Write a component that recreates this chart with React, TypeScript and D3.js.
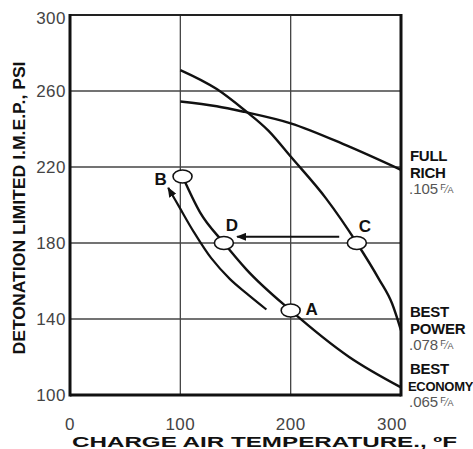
import React from 'react';
import * as d3 from 'd3';

const xTicks = [0, 100, 200, 300];
const yTicks = [100, 140, 180, 220, 260, 300];

// readings, [charge air temp °F, imep psi]
const fullRich: [number, number][] = [[100, 254.5], [133, 252], [158, 249], [200, 243], [250, 231.5], [300, 218.5]];
const bestPower: [number, number][] = [[100, 271], [133, 261], [158, 250], [180, 239], [200, 225.5], [232, 203.5], [260, 180], [280, 161], [292, 148], [300, 134]];
const bestEconomy: [number, number][] = [[102, 215], [118, 196], [139.5, 180], [160, 166], [200, 144.5], [253, 120], [300, 104]];
const returnArrow: [number, number][] = [[178, 145], [160, 153.5], [145, 161], [128, 172], [112, 186], [99, 199], [89, 209]];
const shiftArrow: [number, number][] = [[244, 183.3], [151.5, 183.3]];

const points = [
  { id: 'A', t: 200, p: 144.5 },
  { id: 'B', t: 102, p: 215 },
  { id: 'C', t: 260, p: 180 },
  { id: 'D', t: 139.5, p: 180 },
];

const endLabels = [
  { lines: ['FULL', 'RICH'], ratio: '.105', series: fullRich },
  { lines: ['BEST', 'POWER'], ratio: '.078', series: bestPower },
  { lines: ['BEST', 'ECONOMY'], ratio: '.065', series: bestEconomy },
];

const W = 473;
const H = 449;
const font = '"Liberation Sans", Arial, Helvetica, sans-serif';

export default function App() {
  const x = d3.scaleLinear().domain([0, 300]).range([70, 401]);
  const y = d3.scaleLinear().domain([100, 300]).range([395, 15]);

  const curve = d3.line<[number, number]>().x(d => x(d[0])).y(d => y(d[1])).curve(d3.curveMonotoneX);
  const free = d3.line<[number, number]>().x(d => x(d[0])).y(d => y(d[1])).curve(d3.curveCatmullRom.alpha(0.5));

  // label placement around the circles
  const lblOff: Record<string, [number, number]> = { A: [21, 0], B: [-22, 4], C: [8, -15], D: [8, -16] };

  return (
    <svg width={W} height={H} style={{ position: 'absolute', left: 0, top: 0, background: '#fff' }} fontFamily={font}>
      <defs>
        <marker id="ah" viewBox="0 0 10 8" refX="9" refY="4" markerWidth="10" markerHeight="8" markerUnits="userSpaceOnUse" orient="auto">
          <path d="M0,0 L10,4 L0,8 z" fill="#111" />
        </marker>
      </defs>

      {/* grid */}
      {xTicks.slice(1, -1).map(t => (
        <line key={'gx' + t} x1={x(t)} x2={x(t)} y1={y(300)} y2={y(100)} stroke="#444" strokeWidth={1.3} />
      ))}
      {yTicks.slice(1, -1).map(t => (
        <line key={'gy' + t} x1={x(0)} x2={x(300)} y1={y(t)} y2={y(t)} stroke="#444" strokeWidth={1.3} />
      ))}
      {/* frame */}
      <line x1={x(0)} x2={x(300)} y1={y(300)} y2={y(300)} stroke="#222" strokeWidth={2} />
      <line x1={x(0)} x2={x(0)} y1={y(300) - 1} y2={y(100) + 1.5} stroke="#111" strokeWidth={3} />
      <line x1={x(300)} x2={x(300)} y1={y(300) - 1} y2={y(100) + 1.5} stroke="#111" strokeWidth={3} />
      <line x1={x(0)} x2={x(300)} y1={y(100)} y2={y(100)} stroke="#111" strokeWidth={3} />

      {/* tick labels */}
      {yTicks.map(t => (
        <text key={'ly' + t} x={66} y={y(t) + (t === 300 ? 5 : 2)} textAnchor="end" dominantBaseline="middle"
          fontSize={17} fill="#444" letterSpacing={0.5}>{t}</text>
      ))}
      {xTicks.map(t => (
        <text key={'lx' + t} x={x(t) - (t === 300 ? 9 : 0)} y={430} textAnchor="middle" fontSize={17} fill="#444" letterSpacing={0.5}>{t}</text>
      ))}

      {/* axis titles */}
      <text x={72} y={447} fontSize={14} fontWeight="bold" fill="#111" textLength={385} lengthAdjust="spacingAndGlyphs">
        CHARGE AIR TEMPERATURE.,  ºF
      </text>
      <text transform="translate(25,208) rotate(-90)" textAnchor="middle" fontSize={16} fontWeight="bold" fill="#111"
        textLength={293} lengthAdjust="spacingAndGlyphs">DETONATION LIMITED I.M.E.P., PSI</text>

      {/* curves */}
      {[fullRich, bestPower, bestEconomy].map((s, i) => (
        <path key={'c' + i} d={curve(s) || ''} fill="none" stroke="#111" strokeWidth={2.4} />
      ))}
      <path d={free(returnArrow) || ''} fill="none" stroke="#111" strokeWidth={2.2} markerEnd="url(#ah)" />
      <path d={d3.line<[number, number]>().x(d => x(d[0])).y(d => y(d[1]))(shiftArrow) || ''} fill="none" stroke="#111" strokeWidth={2} markerEnd="url(#ah)" />

      {/* state points */}
      {points.map(pt => (
        <g key={pt.id}>
          <ellipse cx={x(pt.t)} cy={y(pt.p)} rx={9.5} ry={6.5} fill="#fff" stroke="#111" strokeWidth={1.6} />
          <text x={x(pt.t) + lblOff[pt.id][0]} y={y(pt.p) + lblOff[pt.id][1]} textAnchor="middle" dominantBaseline="middle"
            fontSize={17} fontWeight="bold" fill="#111">{pt.id}</text>
        </g>
      ))}

      {/* mixture labels at the right */}
      {endLabels.map((l, i) => {
        const y0 = y(l.series[l.series.length - 1][1]) - (i === 0 ? 13 : 17);
        return (
          <g key={'e' + i}>
            {l.lines.map((ln, j) => (
              <text key={j} x={ln.length > 5 ? 408 : 410} y={y0 + j * 17} dominantBaseline="middle"
                fontSize={ln.length > 5 ? 13 : 15} fontWeight="bold" fill="#111"
                letterSpacing={-0.3}>{ln}</text>
            ))}
            <text x={409} y={y0 + 2 * 16.5} dominantBaseline="middle" fontSize={15} fill="#555">
              {l.ratio}
              <tspan dx={2} fontSize={9} dy={-2}>F</tspan>
              <tspan fontSize={10} dy={2}>⁄</tspan>
              <tspan fontSize={9} dy={1}>A</tspan>
            </text>
          </g>
        );
      })}
    </svg>
  );
}
